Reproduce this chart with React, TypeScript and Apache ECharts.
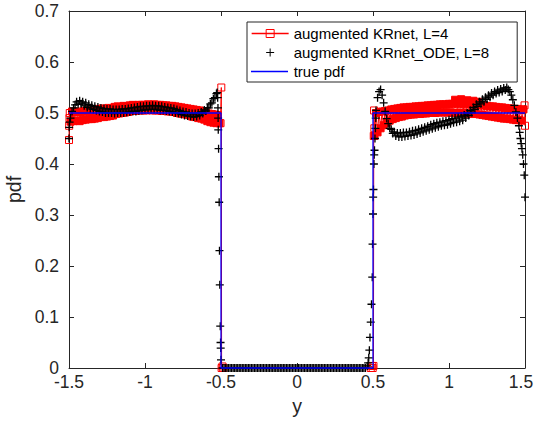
import React, { useEffect, useRef } from 'react';
import * as echarts from 'echarts';

// ---------- data ----------
const STEP = 0.01; // sampling step of the dense bands

// true pdf
const trueX = [-1.5, -0.5, -0.5, 0.5, 0.5, 1.5];
const trueY = [0.5, 0.5, 0, 0, 0.5, 0.5];

// augmented KRnet, L=4 (red squares + line)
const redEdgeL: number[][] = [[-1.5, 0.447], [-1.499, 0.475], [-1.497, 0.49], [-1.495, 0.5]];
const redBandLStart = -1.49;
const redBandLY = [
  0.483, 0.503, 0.484, 0.502, 0.485, 0.503, 0.484, 0.502, 0.486,
  0.504, 0.487, 0.505, 0.488, 0.504, 0.488, 0.506, 0.489, 0.505, 0.49,
  0.508, 0.492, 0.509, 0.492, 0.508, 0.493, 0.51, 0.494, 0.509, 0.495,
  0.512, 0.498, 0.513, 0.499, 0.512, 0.5, 0.514, 0.501, 0.513, 0.502,
  0.515, 0.504, 0.516, 0.504, 0.515, 0.505, 0.516, 0.505, 0.516, 0.505,
  0.516, 0.505, 0.517, 0.506, 0.516, 0.505, 0.517, 0.505, 0.516, 0.505,
  0.516, 0.504, 0.515, 0.504, 0.515, 0.503, 0.514, 0.503, 0.514, 0.502,
  0.513, 0.5, 0.512, 0.499, 0.511, 0.498, 0.51, 0.497, 0.509, 0.496,
  0.508, 0.493, 0.507, 0.492, 0.506, 0.49, 0.505, 0.489, 0.503, 0.487,
  0.5, 0.484, 0.499, 0.482, 0.498, 0.481, 0.497, 0.48, 0.496, 0.48,
];
const redWallL: number[][] = [[-0.503, 0.48], [-0.498, 0.55], [-0.496, 0], [-0.49, 0.003], [-0.485, 0]];
const redWallR: number[][] = [[0.485, 0], [0.492, 0.004], [0.498, 0], [0.503, 0.004], [0.505, 0.455], [0.507, 0.505], [0.509, 0.47]];
const redBandRStart = 0.51;
const redBandRY = [
  0.455, 0.5, 0.462, 0.502, 0.47, 0.503, 0.476, 0.504, 0.481,
  0.505, 0.485, 0.507, 0.488, 0.508, 0.49, 0.509, 0.492, 0.51, 0.493,
  0.511, 0.495, 0.511, 0.496, 0.512, 0.497, 0.512, 0.497, 0.513, 0.498,
  0.513, 0.498, 0.514, 0.499, 0.514, 0.499, 0.515, 0.5, 0.515, 0.5,
  0.516, 0.5, 0.516, 0.501, 0.517, 0.501, 0.517, 0.501, 0.517, 0.501,
  0.518, 0.501, 0.518, 0.5, 0.526, 0.5, 0.518, 0.5, 0.527, 0.5,
  0.517, 0.499, 0.525, 0.499, 0.517, 0.498, 0.524, 0.498, 0.516, 0.522,
  0.497, 0.515, 0.496, 0.515, 0.495, 0.514, 0.494, 0.513, 0.493, 0.513,
  0.492, 0.512, 0.491, 0.511, 0.49, 0.511, 0.489, 0.51, 0.489, 0.509,
  0.488, 0.509, 0.487, 0.508, 0.486, 0.508, 0.486, 0.507, 0.485, 0.507,
];
const redEdgeR: number[][] = [[1.497, 0.515], [1.5, 0.475]];

// augmented KRnet_ODE, L=8 (black plus markers)
const blackEdgeL: number[][] = [[-1.499, 0.472], [-1.496, 0.482]];
const blackBandLStart = -1.5;
const blackBandLY = [
  0.45, 0.49, 0.503, 0.51, 0.516, 0.522, 0.517, 0.524, 0.518, 0.522,
  0.514, 0.52, 0.511, 0.517, 0.508, 0.515, 0.507, 0.513, 0.505, 0.512,
  0.503, 0.51, 0.502, 0.509, 0.5, 0.508, 0.5, 0.508, 0.5, 0.507,
  0.499, 0.507, 0.5, 0.507, 0.5, 0.508, 0.5, 0.508, 0.501, 0.509,
  0.502, 0.51, 0.503, 0.511, 0.503, 0.512, 0.504, 0.513, 0.505, 0.513,
  0.506, 0.514, 0.506, 0.514, 0.507, 0.515, 0.507, 0.514, 0.506, 0.514,
  0.505, 0.513, 0.505, 0.512, 0.504, 0.511, 0.503, 0.51, 0.502, 0.509,
  0.5, 0.507, 0.499, 0.505, 0.497, 0.503, 0.495, 0.502, 0.494, 0.5,
  0.493, 0.499, 0.492, 0.499, 0.493, 0.5, 0.495, 0.502, 0.499, 0.506,
  0.504, 0.51, 0.51, 0.518, 0.52, 0.528, 0.53, 0.538,
];
const blackWallL: number[][] = [
  [-0.525, 0.54], [-0.522, 0.53], [-0.52, 0.51], [-0.519, 0.49], [-0.518, 0.467], [-0.516, 0.43],
  [-0.514, 0.375], [-0.512, 0.325], [-0.51, 0.23], [-0.508, 0.163], [-0.505, 0.082], [-0.503, 0.05],
  [-0.502, 0.039], [-0.5, 0.016],
];
const blackMidStart = -0.49;
const blackMidY = [
  0, 0, 0, 0, 0, 0, 0, 0, 0, 0, 0, 0, 0, 0, 0, 0, 0, 0, 0, 0,
  0, 0, 0, 0, 0, 0, 0, 0, 0, 0, 0, 0, 0, 0, 0, 0, 0, 0, 0, 0,
  0, 0, 0, 0, 0, 0, 0, 0, 0, 0, 0, 0, 0, 0, 0, 0, 0, 0, 0, 0,
  0, 0, 0, 0, 0, 0, 0, 0, 0, 0, 0, 0, 0, 0, 0, 0, 0, 0, 0, 0,
  0, 0, 0, 0, 0, 0, 0, 0, 0, 0, 0, 0, 0, 0, 0,
];
const blackWallR: number[][] = [
  [0.462, 0.004], [0.468, 0.01], [0.472, 0.02], [0.476, 0.035], [0.48, 0.06], [0.485, 0.09],
  [0.49, 0.125], [0.495, 0.178], [0.497, 0.243], [0.5, 0.302], [0.501, 0.335], [0.503, 0.35],
  [0.506, 0.4], [0.508, 0.418], [0.51, 0.427], [0.513, 0.45], [0.516, 0.47], [0.518, 0.49],
];
const blackBandRStart = 0.52;
const blackBandRY = [
  0.505, 0.53, 0.542, 0.546, 0.535, 0.52, 0.503, 0.489,
  0.479, 0.47, 0.468, 0.46, 0.463, 0.455, 0.461, 0.453, 0.461, 0.453,
  0.462, 0.454, 0.462, 0.455, 0.463, 0.456, 0.465, 0.457, 0.466, 0.459,
  0.468, 0.461, 0.47, 0.463, 0.472, 0.465, 0.474, 0.467, 0.477, 0.469,
  0.479, 0.471, 0.481, 0.473, 0.482, 0.475, 0.484, 0.476, 0.485, 0.477,
  0.487, 0.479, 0.489, 0.481, 0.49, 0.482, 0.492, 0.484, 0.494, 0.486,
  0.496, 0.49, 0.5, 0.495, 0.505, 0.501, 0.511, 0.507, 0.517, 0.513,
  0.522, 0.518, 0.527, 0.522, 0.531, 0.527, 0.535, 0.531, 0.539, 0.535,
  0.542, 0.538, 0.545, 0.54, 0.547, 0.542, 0.549, 0.545, 0.55, 0.546,
  0.542, 0.535, 0.526, 0.515, 0.502, 0.49,
];
const blackWallR2: number[][] = [
  [1.46, 0.475], [1.465, 0.462], [1.47, 0.45], [1.475, 0.44], [1.48, 0.43],
  [1.485, 0.418], [1.49, 0.4], [1.495, 0.378], [1.5, 0.335],
];

// ---------- helpers ----------
const seq = (start: number, n: number, step = STEP) =>
  Array.from({ length: n }, (_, i) => Math.round((start + i * step) * 10000) / 10000);
const zip = (x: number[], y: number[]) => x.map((v, i) => [v, y[i]]);

const RED = '#ff0000';
const BLUE = '#0000ff';
// dense band squares overlap into a solid band; isolated squares stay hollow
const solid = (pts: number[][]) => pts.map((p) => ({ value: p, itemStyle: { color: RED } }));

const redData: any[] = [
  ...redEdgeL,
  ...solid(zip(seq(redBandLStart, redBandLY.length), redBandLY)),
  ...redWallL,
  ...redWallR,
  ...solid(zip(seq(redBandRStart, redBandRY.length), redBandRY)),
  ...redEdgeR,
];
const blackData = [
  ...blackEdgeL,
  ...zip(seq(blackBandLStart, blackBandLY.length), blackBandLY),
  ...blackWallL,
  ...zip(seq(blackMidStart, blackMidY.length), blackMidY),
  ...blackWallR,
  ...zip(seq(blackBandRStart, blackBandRY.length), blackBandRY),
  ...blackWallR2,
];
const trueData = zip(trueX, trueY);

const FONT = '"Liberation Sans", Arial, Helvetica, sans-serif';
const AX = '#262626';

const axisCommon = {
  axisLine: { show: true, onZero: false, lineStyle: { color: AX, width: 1 } },
  axisTick: { show: true, inside: true, length: 5, lineStyle: { color: AX, width: 1 } },
  splitLine: { show: false },
};

// legend box geometry
const LEG_LEFT = 247;
const LEG_TOP = 22;
const LEG_PAD = [4, 28, 3, 4];
const LEG_ROW = 15;
const LEG_GAP = 4;
const LEG_ICON_W = 37;

const option: any = {
  animation: false,
  backgroundColor: '#ffffff',
  grid: { left: 69, right: 10, top: 11, bottom: 53, containLabel: false, outerBoundsMode: 'none' },
  legend: {
    orient: 'vertical',
    left: LEG_LEFT,
    top: LEG_TOP,
    padding: LEG_PAD,
    itemGap: LEG_GAP,
    itemWidth: LEG_ICON_W,
    itemHeight: 10,
    borderColor: AX,
    borderWidth: 1,
    backgroundColor: '#ffffff',
    selectedMode: false,
    textStyle: { fontSize: 15, color: '#000', fontFamily: FONT },
    itemStyle: { borderWidth: 1 },
    lineStyle: { width: 1.3 },
    data: [
      { name: 'augmented KRnet, L=4' },
      { name: 'augmented KRnet_ODE, L=8' },
      { name: 'true pdf', icon: 'none' },
    ],
  },
  // sample line of the "true pdf" legend entry
  graphic: [
    {
      type: 'line',
      z: 100,
      shape: {
        x1: LEG_LEFT + LEG_PAD[3],
        y1: LEG_TOP + LEG_PAD[0] + 2 * (LEG_ROW + LEG_GAP) + LEG_ROW / 2,
        x2: LEG_LEFT + LEG_PAD[3] + LEG_ICON_W,
        y2: LEG_TOP + LEG_PAD[0] + 2 * (LEG_ROW + LEG_GAP) + LEG_ROW / 2,
      },
      style: { stroke: BLUE, lineWidth: 1.3 },
    },
  ],
  xAxis: [
    {
      type: 'value', min: -1.5, max: 1.5, interval: 0.5, position: 'bottom',
      name: 'y', nameLocation: 'middle', nameGap: 28,
      nameTextStyle: { fontSize: 19.5, color: AX, fontFamily: FONT },
      axisLabel: {
        show: true, margin: 6, fontSize: 17.5, lineHeight: 15, color: AX, fontFamily: FONT,
        formatter: (v: number) => (v === 1.5 ? '{last|1.5}' : String(v)),
        rich: { last: { fontSize: 17.5, lineHeight: 15, color: AX, fontFamily: FONT, padding: [0, 8, 0, 0] } },
      },
      ...axisCommon,
    },
    {
      type: 'value', min: -1.5, max: 1.5, interval: 0.5, position: 'top',
      axisLabel: { show: false },
      ...axisCommon,
    },
  ],
  yAxis: [
    {
      type: 'value', min: 0, max: 0.7, interval: 0.1, position: 'left',
      name: 'pdf', nameLocation: 'middle', nameGap: 35,
      nameTextStyle: { fontSize: 19.5, color: AX, fontFamily: FONT },
      axisLabel: { show: true, margin: 10, fontSize: 17.5, lineHeight: 12, color: AX, fontFamily: FONT },
      ...axisCommon,
    },
    {
      type: 'value', min: 0, max: 0.7, interval: 0.1, position: 'right',
      axisLabel: { show: false },
      ...axisCommon,
    },
  ],
  series: [
    {
      type: 'line',
      name: 'augmented KRnet, L=4',
      data: redData,
      symbol: 'path://M0,0H10V10H0Z',
      symbolSize: 7,
      showSymbol: true,
      showAllSymbol: true,
      clip: false,
      z: 2,
      lineStyle: { color: RED, width: 1 },
      itemStyle: { color: 'rgba(255,0,0,0)', borderColor: RED, borderWidth: 1 },
    },
    {
      type: 'line',
      name: 'augmented KRnet_ODE, L=8',
      data: blackData,
      symbol: 'path://M0,4H8M4,0V8',
      symbolSize: 8,
      showSymbol: true,
      showAllSymbol: true,
      clip: false,
      z: 3,
      lineStyle: { color: '#000000', width: 0, opacity: 0 },
      itemStyle: { color: '#000000', borderColor: '#000000', borderWidth: 1.3 },
    },
    {
      type: 'line',
      name: 'true pdf',
      data: trueData,
      symbol: 'none',
      showSymbol: false,
      clip: false,
      z: 10,
      color: BLUE,
      lineStyle: { color: BLUE, width: 1.3 },
      itemStyle: { color: BLUE, borderColor: BLUE },
    },
  ],
};

export default function App() {
  const ref = useRef<HTMLDivElement>(null);
  useEffect(() => {
    document.body.style.margin = '0';
    const chart = echarts.init(ref.current as HTMLDivElement, null, { renderer: 'svg', width: 535, height: 421 });
    chart.setOption(option);
    return () => chart.dispose();
  }, []);
  return (
    <div
      ref={ref}
      style={{ position: 'absolute', left: 0, top: 0, width: 535, height: 421, background: '#fff' }}
    />
  );
}
